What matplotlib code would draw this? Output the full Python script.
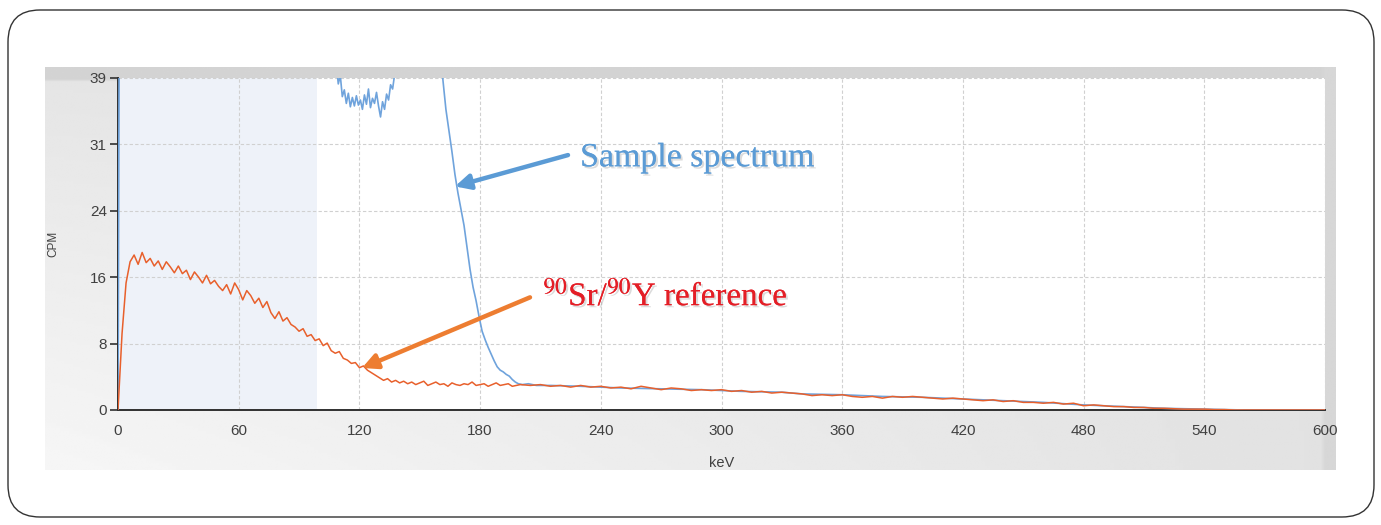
import numpy as np
import matplotlib
matplotlib.use("Agg")
import matplotlib.pyplot as plt
from matplotlib.patches import FancyBboxPatch
import matplotlib.patheffects as pe

# 90Sr/90Y reference spectrum (CPM)
ref_kev_low = list(range(0, 201, 2))
ref_cpm_low = [0, 9, 15, 17.5, 18.3, 17.2, 18.6, 17.4, 17.9, 17.0,
               17.6, 16.6, 17.5, 16.9, 16.2, 17.0, 16.1, 16.5, 15.4, 16.3,
               15.7, 15.0, 15.9, 14.9, 15.3, 14.6, 14.1, 14.8, 13.7, 15.0,
               14.2, 13.0, 14.1, 13.5, 12.6, 13.2, 12.1, 12.8, 11.5, 10.8,
               11.6, 10.5, 10.9, 10.1, 9.8, 9.3, 9.6, 8.7, 8.9, 8.2,
               8.4, 7.6, 7.9, 7.0, 6.7, 6.9, 6.1, 5.9, 5.5, 5.6,
               5.0, 5.2, 4.7, 4.4, 4.1, 3.8, 3.5, 3.7, 3.3, 3.5,
               3.2, 3.4, 3.1, 3.3, 3.0, 3.2, 3.4, 2.9, 3.1, 3.3,
               3.0, 3.1, 2.8, 3.2, 3.0, 2.9, 3.1, 3.0, 3.3, 2.9,
               3.0, 3.1, 2.8, 3.0, 3.2, 2.9, 3.0, 3.1, 2.8, 2.9,
               3.0]
ref_kev_high = list(range(205, 601, 5))
ref_cpm_high = [2.9, 3.0, 2.8, 2.9, 2.7, 2.9, 2.7, 2.8, 2.6, 2.7,
                2.5, 2.8, 2.6, 2.4, 2.6, 2.5, 2.3, 2.4, 2.3, 2.4,
                2.2, 2.3, 2.1, 2.2, 2.0, 2.1, 2.0, 1.9, 1.7, 1.8,
                1.7, 1.8, 1.6, 1.5, 1.6, 1.4, 1.6, 1.5, 1.6, 1.5,
                1.4, 1.3, 1.4, 1.3, 1.2, 1.1, 1.2, 1.0, 1.1, 0.9,
                0.9, 0.8, 0.9, 0.7, 0.8, 0.5, 0.6, 0.5, 0.4, 0.4,
                0.3, 0.3, 0.2, 0.2, 0.15, 0.1, 0.1, 0.1, 0.05, 0.05,
                0.0, 0.0, 0.0, 0.0, 0.0, 0.0, 0.0, 0.0, 0.0, 0.0]

# sample spectrum (mostly off scale below ~160 keV)
sample_kev = [0, 2, 30, 60, 90, 105, 108, 109.5, 110.5, 111.5, 112.5, 113.5,
              114.5, 115.5, 116.5, 117.5, 118.5, 119.5, 120.5, 121.5, 122.5,
              123.5, 124.5, 125.5, 126.5, 127.5, 128.5, 129.5, 130.5, 131.5,
              132.5, 133.5, 134.5, 135.5, 136.5, 137.5, 139, 145, 155, 160,
              161.5, 163, 164.5, 166, 167.5, 169, 170.5, 172, 173.5, 175,
              176.5, 178, 179.5, 181, 182.5, 184, 185.5, 187, 188.5, 190,
              191.5, 193, 194.5, 196, 197.5, 199, 201, 204, 208, 215, 230,
              250, 270, 290, 310, 330, 340, 360, 380, 400, 420, 440, 460,
              480, 500, 520, 540, 560, 600]
sample_cpm = [0, 150, 300, 250, 120, 60, 42, 38.5, 39.5, 37.0, 37.8, 36.2,
              37.4, 35.8, 36.9, 35.9, 37.1, 36.0, 36.6, 35.5, 37.2,
              36.1, 37.9, 35.7, 36.8, 36.2, 37.5, 35.9, 34.6, 36.4,
              35.5, 37.3, 36.6, 38.4, 37.9, 39.6, 45, 60, 55, 44,
              39.0, 35.5, 33.0, 30.5, 27.8, 25.6, 23.7, 21.8, 19.2, 16.6,
              14.5, 12.9, 11.0, 9.3, 8.3, 7.4, 6.6, 5.8, 5.1, 4.7,
              4.5, 4.2, 4.0, 3.6, 3.3, 3.1, 3.0, 3.1, 2.9, 2.9, 2.8,
              2.6, 2.5, 2.4, 2.2, 2.1, 1.9, 1.8, 1.6, 1.5, 1.3, 1.1, 0.9,
              0.6, 0.4, 0.2, 0.1, 0.0, 0.0]

x_ticks = list(range(0, 601, 60))
y_max = 39.2
y_tick_labels = ["0", "8", "16", "24", "31", "39"]
roi_kev = (0, 99)

ref_kev = ref_kev_low + ref_kev_high
ref_cpm = ref_cpm_low + ref_cpm_high

plt.rcParams["font.family"] = ["Liberation Sans", "DejaVu Sans"]
plt.rcParams["mathtext.fontset"] = "stix"

fig = plt.figure(figsize=(13.81, 5.25), dpi=100)
fig.patch.set_facecolor("white")

# rounded outer frame
frame = FancyBboxPatch((0.08, 0.08), 13.66, 5.07,
                       boxstyle="round,pad=0,rounding_size=0.32",
                       transform=fig.dpi_scale_trans, facecolor="none",
                       edgecolor="#333333", linewidth=1.0, zorder=5)
fig.patches.append(frame)

# gray gradient panel behind the chart (row 0 = top)
bg = fig.add_axes([0.0326, 0.1048, 0.9348, 0.7676], zorder=0)
gx, gy = np.meshgrid(np.linspace(0, 1, 300), np.linspace(0, 1, 150))
shade = 0.965 - 0.08 * gx - 0.07 * (1 - gy) * (1 - gx)
shade[gy < 0.028] = 0.83
shade[:, gx[0] > 0.9915] = 0.84
bg.imshow(shade, cmap="gray", vmin=0, vmax=1, aspect="auto",
          origin="upper", extent=[0, 1, 0, 1], interpolation="bilinear")
bg.axis("off")

ax = fig.add_axes([0.08545, 0.21905, 0.87400, 0.63238], zorder=1)
ax.set_facecolor("white")
ax.axvspan(*roi_kev, color="#eef2f9", zorder=0, lw=0)

ax.plot(sample_kev, sample_cpm, color="#6fa3dc", lw=1.2, zorder=3)
ax.plot(ref_kev, ref_cpm, color="#e8602c", lw=1.1, zorder=4)

ax.set_xlim(0, 600)
ax.set_ylim(0, y_max)
ax.set_xticks(x_ticks)
ax.set_yticks(np.linspace(0, y_max, len(y_tick_labels)))
ax.set_yticklabels(y_tick_labels)
ax.grid(True, color="#d0d0d0", ls=(0, (3, 2)), lw=0.8)
ax.set_axisbelow(True)
for s in ["top", "right"]:
    ax.spines[s].set_visible(False)
for s in ["left", "bottom"]:
    ax.spines[s].set_color("#303030")
    ax.spines[s].set_linewidth(1.4)
ax.tick_params(axis="y", length=6, width=1.2, color="#303030",
               labelsize=11, labelcolor="#404040", pad=2)
ax.tick_params(axis="x", length=0, labelsize=11, labelcolor="#404040", pad=10)
ax.set_xlabel("keV", fontsize=10.5, color="#404040", labelpad=13)
ax.set_ylabel("CPM", fontsize=8.5, color="#404040", labelpad=22)

shadow = [pe.withSimplePatchShadow(offset=(1.5, -1.5), shadow_rgbFace="#999999",
                                   alpha=0.35), pe.Normal()]
ax.annotate("", xy=(167.5, 26.4), xytext=(223.7, 30.1),
            arrowprops=dict(arrowstyle="-|>,head_length=0.9,head_width=0.45",
                            color="#5b9bd5", lw=3.2, shrinkA=0, shrinkB=0),
            zorder=6)
ax.text(229.7, 29.75, "Sample spectrum", fontsize=24.4, color="#5b9bd5",
        family="Liberation Serif", va="center", ha="left", zorder=6,
        path_effects=shadow)

ax.annotate("", xy=(121.3, 4.96), xytext=(204.8, 13.3),
            arrowprops=dict(arrowstyle="-|>,head_length=0.9,head_width=0.45",
                            color="#ed7d31", lw=3.2, shrinkA=0, shrinkB=0),
            zorder=6)
ax.text(211.3, 13.46, r"$^{90}$Sr/$^{90}$Y reference", fontsize=23.8,
        color="#e41e26", family="Liberation Serif", va="center", ha="left",
        zorder=6, path_effects=shadow)

fig.savefig("out.png", dpi=100)
